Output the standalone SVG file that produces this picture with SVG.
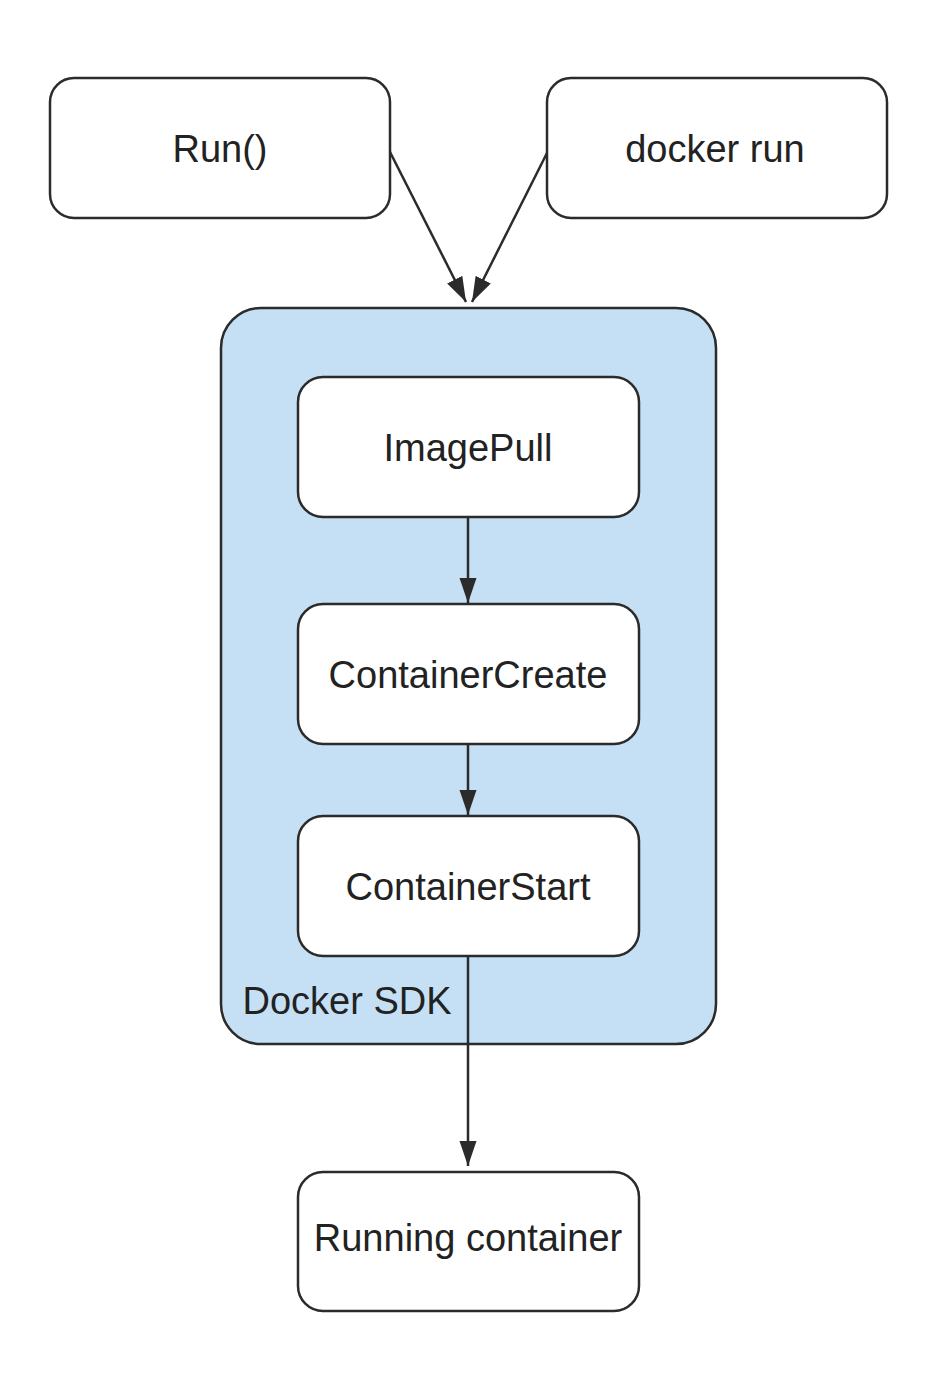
<svg xmlns="http://www.w3.org/2000/svg" width="933" height="1380" viewBox="0 0 933 1380">
<defs>
<style>
.box{fill:#ffffff;stroke:#2b2b2b;stroke-width:2.5}
.sdk{fill:#c5e0f5;stroke:#2b2b2b;stroke-width:2.5}
.lbl{font-family:"Liberation Sans",Arial,sans-serif;font-size:38px;fill:#222222;text-anchor:middle}
.edge{fill:none;stroke:#2b2b2b;stroke-width:2.5;marker-end:url(#arr)}
</style>
<marker id="arr" viewBox="0 0 10 10" refX="10" refY="5" markerWidth="10" markerHeight="10" markerUnits="strokeWidth" orient="auto">
<path d="M0,1.6 L10,5 L0,8.4 z" fill="#2b2b2b"/>
</marker>
</defs>
<rect width="933" height="1380" fill="#ffffff"/>
<g id="sdk">
<rect class="sdk" x="221" y="308" width="495" height="736" rx="40" ry="40"/>
<text class="lbl" x="347" y="1014">Docker SDK</text>
</g>
<g id="run">
<rect class="box" x="50" y="78" width="340" height="140" rx="24" ry="24"/>
<text class="lbl" x="220" y="162">Run()</text>
</g>
<g id="dockerrun">
<rect class="box" x="547" y="78" width="340" height="140" rx="24" ry="24"/>
<text class="lbl" x="715" y="162">docker run</text>
</g>
<g id="imagepull">
<rect class="box" x="298" y="377" width="341" height="140" rx="25" ry="25"/>
<text class="lbl" x="468" y="461">ImagePull</text>
</g>
<g id="containercreate">
<rect class="box" x="298" y="604" width="341" height="140" rx="25" ry="25"/>
<text class="lbl" x="468" y="688">ContainerCreate</text>
</g>
<g id="containerstart">
<rect class="box" x="298" y="816" width="341" height="140" rx="25" ry="25"/>
<text class="lbl" x="468" y="900">ContainerStart</text>
</g>
<g id="running">
<rect class="box" x="298" y="1172" width="341" height="139" rx="25" ry="25"/>
<text class="lbl" x="468" y="1251">Running container</text>
</g>
<g id="connectors">
<line class="edge" x1="390" y1="152" x2="466" y2="302"/>
<line class="edge" x1="547" y1="153" x2="472" y2="302"/>
<line class="edge" x1="468" y1="517" x2="468" y2="603"/>
<line class="edge" x1="468" y1="744" x2="468" y2="815"/>
<line class="edge" x1="468" y1="956" x2="468" y2="1166"/>
</g>
</svg>
